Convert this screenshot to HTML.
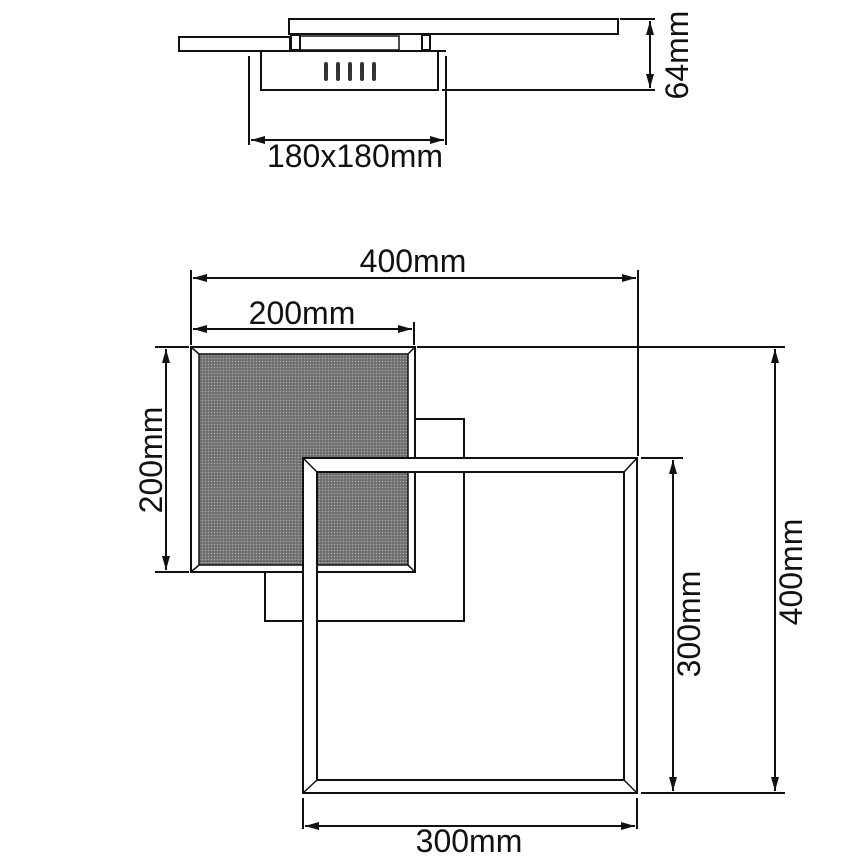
<!DOCTYPE html>
<html><head><style>html,body{margin:0;padding:0;background:#fff}svg{display:block}text{font-family:"Liberation Sans",Arial,sans-serif;fill:#111}</style></head>
<body>
<svg width="865" height="866" viewBox="0 0 865 866" xmlns="http://www.w3.org/2000/svg">
<defs>
<marker id="a" viewBox="0 0 10 10" refX="10" refY="5" markerWidth="14" markerHeight="8" markerUnits="userSpaceOnUse" orient="auto-start-reverse" preserveAspectRatio="none"><path d="M0,0 L10,5 L0,10 z" fill="#111"/></marker>
<pattern id="dots" width="3" height="3" patternUnits="userSpaceOnUse"><rect width="3" height="3" fill="#6e6e6e"/><circle cx="1.5" cy="1.5" r="0.8" fill="#a8a8a8"/></pattern>
</defs>
<g stroke="#111" stroke-width="2" fill="none">
<rect x="289" y="19" width="329" height="15"/>
<rect x="179" y="37" width="111" height="14"/>
<rect x="291" y="35" width="9" height="15"/>
<rect x="300" y="36" width="99" height="14" stroke-width="1.5"/>
<rect x="422" y="35" width="8" height="15"/>
<path d="M260 51 H446"/>
<rect x="261" y="51" width="177" height="39"/>
<path d="M249 56 V145 M446 56 V145"/>
<path d="M251 140 H444" marker-start="url(#a)" marker-end="url(#a)"/>
<path d="M620 19 H655 M442 90 H655"/>
<path d="M650 21 V88" marker-start="url(#a)" marker-end="url(#a)"/>
</g>
<g fill="#333">
<rect x="324" y="62" width="4" height="19" rx="2"/><rect x="336" y="62" width="4" height="19" rx="2"/><rect x="348" y="62" width="4" height="19" rx="2"/><rect x="360" y="62" width="4" height="19" rx="2"/><rect x="372" y="62" width="4" height="19" rx="2"/>
</g>
<text x="355" y="167" font-size="32" text-anchor="middle">180x180mm</text>
<text transform="translate(688,55) rotate(-90)" font-size="32" text-anchor="middle">64mm</text>

<g stroke="#111" stroke-width="2" fill="none">
<rect x="265" y="419" width="199" height="202"/>
<rect x="191" y="347" width="224" height="225" fill="#fff"/>
<rect x="199" y="354" width="209" height="211" fill="url(#dots)" stroke-width="1.5"/>
<path d="M191 347 L199 354 M415 347 L408 354 M191 572 L199 565 M415 572 L408 565" stroke-width="1.5"/>
<path d="M303 458 H637 V793 H303 Z M317 472 H624 V780 H317 Z" fill="#fff" fill-rule="evenodd"/>
<path d="M303 458 L317 472 M637 458 L624 472 M303 793 L317 780 M637 793 L624 780" stroke-width="1.5"/>
<path d="M191 270 V345 M638 270 V456 M414 322 V345"/>
<path d="M193 278 H636" marker-start="url(#a)" marker-end="url(#a)"/>
<path d="M193 329 H412" marker-start="url(#a)" marker-end="url(#a)"/>
<path d="M155 347 H189 M155 572 H189"/>
<path d="M166 349 V570" marker-start="url(#a)" marker-end="url(#a)"/>
<path d="M417 347 H785 M641 458 H683 M641 793 H785"/>
<path d="M673 460 V791" marker-start="url(#a)" marker-end="url(#a)"/>
<path d="M775 349 V791" marker-start="url(#a)" marker-end="url(#a)"/>
<path d="M303 798 V829 M637 798 V829"/>
<path d="M305 826 H635" marker-start="url(#a)" marker-end="url(#a)"/>
</g>
<text x="413" y="272" font-size="32" text-anchor="middle">400mm</text>
<text x="302" y="324" font-size="32" text-anchor="middle">200mm</text>
<text transform="translate(162,460) rotate(-90)" font-size="32" text-anchor="middle">200mm</text>
<text transform="translate(700,624) rotate(-90)" font-size="32" text-anchor="middle">300mm</text>
<text transform="translate(802,572) rotate(-90)" font-size="32" text-anchor="middle">400mm</text>
<text x="469" y="852" font-size="32" text-anchor="middle">300mm</text>
</svg>
</body></html>
